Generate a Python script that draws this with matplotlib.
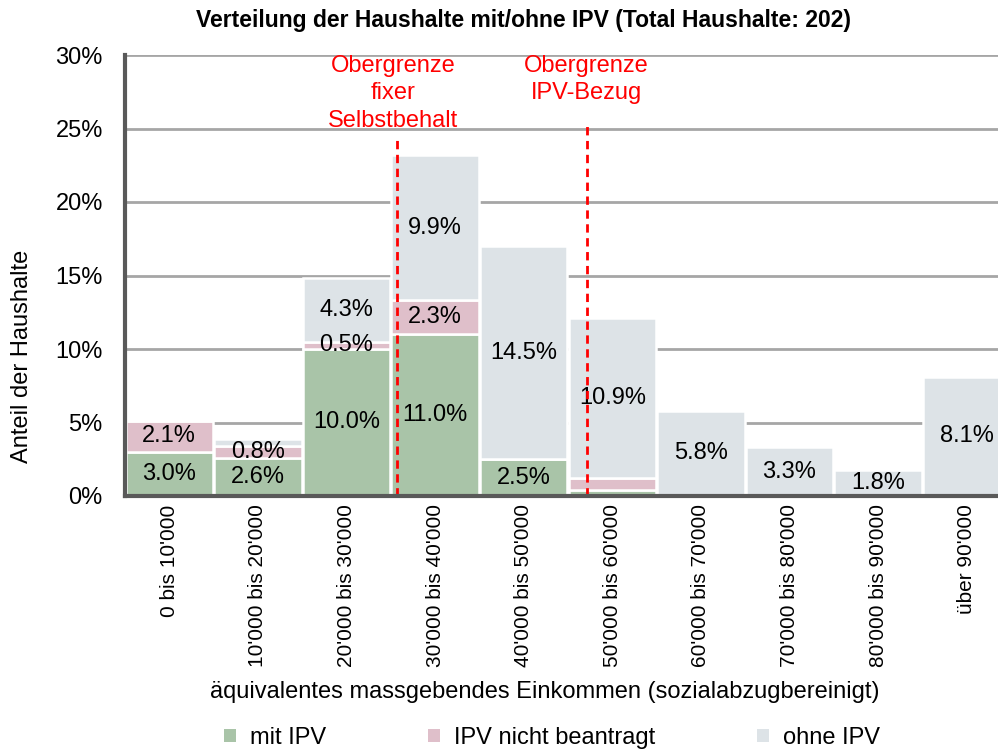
import matplotlib.pyplot as plt
from matplotlib.patches import Patch

plt.rcParams['font.family'] = ['Liberation Sans', 'DejaVu Sans']

categories = ["0 bis 10'000", "10'000 bis 20'000", "20'000 bis 30'000", "30'000 bis 40'000",
              "40'000 bis 50'000", "50'000 bis 60'000", "60'000 bis 70'000", "70'000 bis 80'000",
              "80'000 bis 90'000", "über 90'000"]
mit_ipv = [3.0, 2.6, 10.0, 11.0, 2.5, 0.4, 0.0, 0.0, 0.0, 0.0]
nicht_beantragt = [2.1, 0.8, 0.5, 2.3, 0.0, 0.8, 0.0, 0.0, 0.0, 0.0]
ohne_ipv = [0.0, 0.5, 4.3, 9.9, 14.5, 10.9, 5.8, 3.3, 1.8, 8.1]
# which segments carry a value label
show_mit = [1, 1, 1, 1, 1, 0, 0, 0, 0, 0]
show_nicht = [1, 1, 1, 1, 0, 0, 0, 0, 0, 0]
show_ohne = [0, 0, 1, 1, 1, 1, 1, 1, 1, 1]

series = [
    ("mit IPV", mit_ipv, show_mit, "#a9c4a8"),
    ("IPV nicht beantragt", nicht_beantragt, show_nicht, "#dfbfca"),
    ("ohne IPV", ohne_ipv, show_ohne, "#dde3e7"),
]

fs = 17

fig = plt.figure(figsize=(9.98, 7.51), dpi=100)
ax = fig.add_axes([125 / 998, 1 - 496 / 751, 886 / 998, 441 / 751])

x = list(range(len(categories)))
bottom = [0.0] * len(categories)
for name, vals, show, col in series:
    ax.bar(x, vals, width=0.985, bottom=bottom, color=col, edgecolor="white",
           linewidth=1.8, zorder=2)
    for i, v in enumerate(vals):
        if show[i]:
            ax.text(i, bottom[i] + v / 2, f"{v:.1f}%", ha="center", va="center",
                    fontsize=fs, color="black", zorder=4)
    bottom = [b + v for b, v in zip(bottom, vals)]

# threshold lines
ax.plot([2.57, 2.57], [0, 24.4], color="red", ls=(0, (3, 2)), lw=2, zorder=5)
ax.plot([4.71, 4.71], [0, 25.4], color="red", ls=(0, (3, 2)), lw=2, zorder=5)
ax.text(2.53, 30.0, "Obergrenze\nfixer\nSelbstbehalt", color="red", ha="center",
        va="top", fontsize=fs, linespacing=1.32)
ax.text(4.71, 30.0, "Obergrenze\nIPV-Bezug", color="red", ha="center",
        va="top", fontsize=fs, linespacing=1.32)

ax.set_xlim(-0.5, 9.5)
ax.set_ylim(0, 30)
ax.set_yticks(range(0, 31, 5))
ax.set_yticklabels([f"{t}%" for t in range(0, 31, 5)], fontsize=fs)
ax.set_xticks(x)
ax.set_xticklabels(categories, rotation=90, fontsize=15)
ax.tick_params(axis="x", length=0, pad=6)
ax.tick_params(axis="y", length=0, pad=16)
ax.grid(axis="y", color="#a6a6a6", lw=2, zorder=0)
ax.set_axisbelow(True)
for s in ["top", "right"]:
    ax.spines[s].set_visible(False)
for s in ["left", "bottom"]:
    ax.spines[s].set_color("#595959")
    ax.spines[s].set_linewidth(3)
    ax.spines[s].set_zorder(6)

fig.text(22 / 998, 1 - 356 / 751, "Anteil der Haushalte", rotation=90,
         ha="center", va="center", fontsize=fs)
fig.text(545 / 998, 1 - 692 / 751, "äquivalentes massgebendes Einkommen (sozialabzugbereinigt)",
         ha="center", va="center", fontsize=fs)
fig.text(523 / 998, 1 - 20 / 751, "Verteilung der Haushalte mit/ohne IPV (Total Haushalte: 202)",
         ha="center", va="center", fontsize=16.5, fontweight="bold")

handles = [Patch(facecolor=c, edgecolor="none") for _, _, _, c in series]
fig.legend(handles, [n for n, _, _, _ in series], loc="center", ncol=3,
           bbox_to_anchor=(552 / 998, 1 - 738 / 751), frameon=False, fontsize=fs,
           handlelength=0.5, handleheight=0.5, columnspacing=4.3, handletextpad=0.6)

fig.savefig("out.png", dpi=100)
